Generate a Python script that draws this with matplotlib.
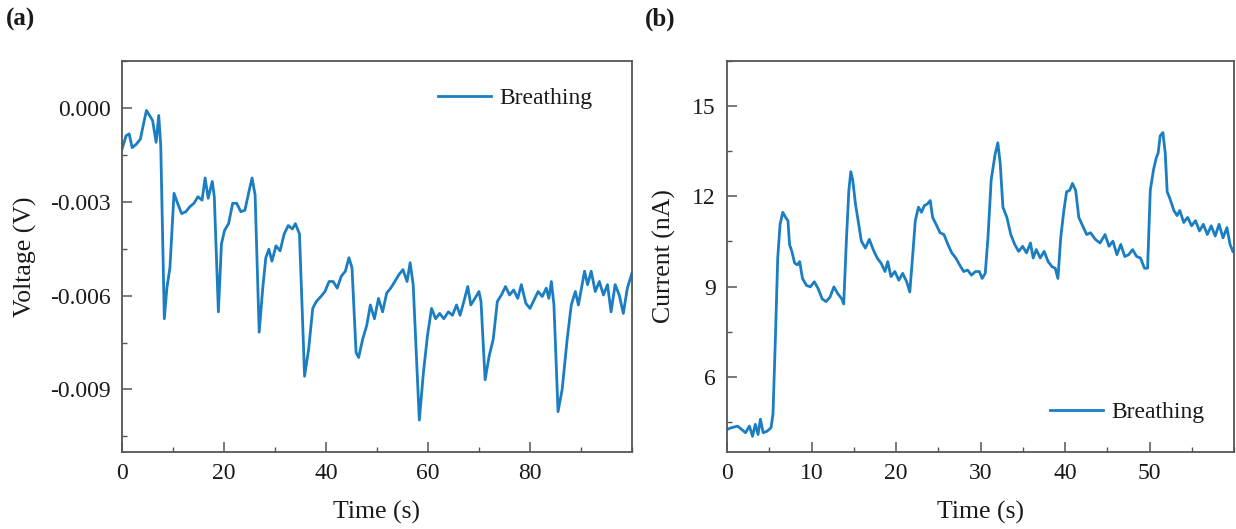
import matplotlib
matplotlib.use('Agg')
import matplotlib.pyplot as plt
from matplotlib.ticker import MultipleLocator, FuncFormatter

plt.rcParams['font.family'] = ['Liberation Serif', 'DejaVu Serif']
plt.rcParams['axes.unicode_minus'] = False

# (a) voltage during breathing, time in s, voltage in mV
t_a = [0, 0.8, 1.4, 2.0, 2.8, 3.6, 4.3, 4.8, 5.4, 6.0, 6.7, 7.2, 7.6, 8.3, 8.8, 9.4,
       10.2, 10.9, 11.7, 12.5, 13.3, 14.1, 14.9, 15.7, 16.3, 16.9, 17.7, 18.1, 18.9,
       19.5, 20.1, 20.9, 21.7, 22.5, 23.3, 24.1, 24.9, 25.5, 26.1, 26.9, 27.6, 28.2,
       28.8, 29.4, 30.2, 31.0, 31.8, 32.6, 33.4, 34.0, 34.8, 35.8, 36.6, 37.4, 38.1,
       39.0, 39.8, 40.6, 41.4, 42.2, 43.0, 43.8, 44.5, 45.1, 45.9, 46.4, 47.2, 48.0,
       48.7, 49.5, 50.3, 51.1, 51.9, 52.7, 53.5, 54.3, 55.1, 55.9, 56.5, 57.1, 58.3,
       59.1, 59.9, 60.7, 61.5, 62.3, 63.1, 64.0, 64.8, 65.6, 66.3, 67.2, 67.8, 68.4,
       69.2, 70.0, 70.4, 71.2, 72.0, 72.8, 73.6, 74.4, 75.2, 76.0, 76.8, 77.6, 78.3,
       79.2, 80.0, 80.8, 81.6, 82.4, 83.2, 83.7, 84.2, 84.7, 85.5, 86.3, 87.3, 88.1,
       88.9, 89.5, 90.1, 90.7, 91.3, 92.0, 92.8, 93.6, 94.4, 95.2, 95.9, 96.7, 97.5,
       98.3, 99.1, 100]
v_a = [-1.32, -0.89, -0.83, -1.27, -1.16, -1.0, -0.45, -0.08, -0.24, -0.40, -1.10,
       -0.24, -1.21, -6.74, -5.76, -5.11, -2.73, -3.05, -3.38, -3.32, -3.16, -3.05,
       -2.84, -2.95, -2.24, -2.89, -2.35, -2.84, -6.52, -4.35, -3.92, -3.70, -3.05,
       -3.05, -3.32, -3.27, -2.67, -2.24, -2.78, -7.17, -5.76, -4.79, -4.52, -4.90,
       -4.41, -4.57, -4.03, -3.76, -3.87, -3.70, -4.03, -8.58, -7.71, -6.41, -6.19,
       -6.03, -5.87, -5.55, -5.55, -5.76, -5.38, -5.22, -4.79, -5.11, -7.82, -7.98,
       -7.39, -6.95, -6.30, -6.74, -6.09, -6.52, -5.92, -5.76, -5.55, -5.33, -5.17,
       -5.55, -4.95, -5.65, -9.98, -8.47, -7.28, -6.41, -6.74, -6.57, -6.74, -6.52,
       -6.63, -6.30, -6.63, -6.09, -5.71, -6.30, -6.09, -5.87, -6.19, -8.69, -7.93,
       -7.39, -6.19, -5.98, -5.71, -5.98, -5.82, -6.09, -5.65, -6.25, -6.41, -6.14,
       -5.87, -6.03, -5.76, -6.09, -5.55, -6.30, -9.71, -9.01, -7.39, -6.30, -5.87,
       -6.30, -5.76, -5.22, -5.65, -5.22, -5.87, -5.55, -5.98, -5.65, -6.52, -5.65,
       -5.98, -6.57, -5.76, -5.28]

# (b) current during breathing, time in s, current in nA
t_b = [0, 0.56, 1.26, 1.72, 2.19, 2.65, 3.02, 3.35, 3.67, 3.95, 4.28, 4.74, 5.21,
       5.44, 5.72, 6.0, 6.28, 6.6, 6.93, 7.21, 7.40, 7.67, 8.0, 8.33, 8.6, 8.93, 9.4,
       9.86, 10.33, 10.79, 11.26, 11.72, 12.19, 12.65, 13.12, 13.58, 13.81, 14.14,
       14.42, 14.65, 14.88, 15.2, 15.58, 15.9, 16.37, 16.84, 17.3, 17.77, 18.23,
       18.7, 19.02, 19.4, 19.86, 20.33, 20.79, 21.26, 21.63, 21.95, 22.28, 22.65,
       23.02, 23.35, 23.72, 24.05, 24.33, 24.74, 25.21, 25.67, 26.14, 26.6, 27.07,
       27.53, 28.0, 28.47, 28.93, 29.4, 29.86, 30.19, 30.56, 30.88, 31.26, 31.72,
       32.05, 32.33, 32.65, 33.12, 33.58, 34.05, 34.51, 34.98, 35.44, 35.91, 36.23,
       36.6, 37.07, 37.53, 38.0, 38.47, 38.84, 39.16, 39.49, 39.86, 40.19, 40.56,
       40.88, 41.26, 41.63, 42.09, 42.56, 43.02, 43.58, 44.14, 44.74, 45.2, 45.67,
       46.14, 46.6, 47.07, 47.53, 48.0, 48.47, 48.93, 49.4, 49.77, 50.09, 50.47,
       50.79, 51.02, 51.26, 51.58, 51.86, 52.09, 52.42, 52.88, 53.26, 53.58, 54.05,
       54.51, 54.98, 55.44, 55.91, 56.37, 56.84, 57.3, 57.77, 58.23, 58.7, 59.16,
       59.53, 59.86]
i_b = [4.25, 4.31, 4.36, 4.25, 4.14, 4.36, 4.02, 4.42, 4.08, 4.59, 4.14, 4.19, 4.31,
       4.76, 7.24, 9.95, 11.07, 11.47, 11.30, 11.19, 10.40, 10.17, 9.78, 9.72, 9.83,
       9.27, 9.04, 8.99, 9.16, 8.93, 8.59, 8.50, 8.65, 8.99, 8.76, 8.59, 8.42, 10.62,
       12.20, 12.82, 12.54, 11.75, 11.07, 10.51, 10.28, 10.57, 10.23, 9.95, 9.78,
       9.50, 9.83, 9.33, 9.50, 9.21, 9.44, 9.16, 8.82, 9.95, 11.19, 11.64, 11.47,
       11.69, 11.75, 11.86, 11.30, 11.07, 10.79, 10.73, 10.40, 10.12, 9.95, 9.72,
       9.50, 9.55, 9.38, 9.50, 9.50, 9.27, 9.44, 10.62, 12.54, 13.39, 13.78, 13.10,
       11.64, 11.30, 10.73, 10.40, 10.17, 10.34, 10.12, 10.45, 9.95, 10.23, 9.95,
       10.17, 9.83, 9.66, 9.61, 9.27, 10.62, 11.53, 12.15, 12.20, 12.43, 12.20,
       11.30, 11.02, 10.73, 10.79, 10.57, 10.45, 10.73, 10.34, 10.51, 10.06, 10.40,
       10.00, 10.06, 10.23, 10.00, 9.95, 9.61, 9.61, 12.20, 12.88, 13.27, 13.44,
       14.01, 14.12, 13.44, 12.15, 11.92, 11.53, 11.36, 11.53, 11.13, 11.30, 11.02,
       11.19, 10.85, 11.07, 10.73, 11.02, 10.68, 11.07, 10.62, 10.96, 10.40, 10.17]

line_color = '#1b7dc2'
text_color = '#1a1a1a'
spine_color = '#555555'

fig = plt.figure(figsize=(12.36, 5.29), dpi=100)
ax_a = fig.add_axes([0.0987, 0.1456, 0.4126, 0.7391])
ax_b = fig.add_axes([0.5882, 0.1456, 0.4102, 0.7391])

ax_a.plot(t_a, [v / 1000 for v in v_a], color=line_color, lw=2.0, label='Breathing')
ax_b.plot(t_b, i_b, color=line_color, lw=2.0, label='Breathing')

ax_a.set_xlim(0, 100)
ax_a.set_ylim(-0.0110, 0.0015)
ax_a.xaxis.set_minor_locator(MultipleLocator(10))
ax_a.yaxis.set_major_locator(MultipleLocator(0.003))
ax_a.yaxis.set_minor_locator(MultipleLocator(0.0015))
ax_a.yaxis.set_major_formatter(FuncFormatter(lambda v, p: f'{v:.3f}'.replace('-0.000', '0.000')))
ax_a.set_xticks([0, 20, 40, 60, 80])

ax_b.set_xlim(0, 60)
ax_b.set_ylim(3.5, 16.5)
ax_b.set_xticks([0, 10, 20, 30, 40, 50])
ax_b.xaxis.set_minor_locator(MultipleLocator(5))
ax_b.yaxis.set_major_locator(MultipleLocator(3))
ax_b.yaxis.set_minor_locator(MultipleLocator(1.5))

for ax in (ax_a, ax_b):
    for s in ax.spines.values():
        s.set_color(spine_color)
        s.set_linewidth(1.3)
    ax.tick_params(which='major', direction='in', length=7, width=1.1, color=spine_color,
                   labelsize=17, labelcolor=text_color, pad=8)
    ax.tick_params(which='minor', direction='in', length=3.5, width=1.0, color=spine_color)
    ax.set_xlabel('Time (s)', fontsize=18.5, color=text_color)
    ax.xaxis.set_label_coords(0.5, -0.125)

ax_a.set_ylabel('Voltage (V)', fontsize=18.5, color=text_color)
ax_a.yaxis.set_label_coords(-0.167, 0.5)
ax_b.set_ylabel('Current (nA)', fontsize=18.5, color=text_color)
ax_b.yaxis.set_label_coords(-0.1, 0.5)

ax_a.legend(loc='center left', bbox_to_anchor=(0.62, 0.905), frameon=False, fontsize=17,
            handlelength=2.25, handletextpad=0.35, borderpad=0, borderaxespad=0,
            labelcolor=text_color)
ax_b.legend(loc='center left', bbox_to_anchor=(0.637, 0.102), frameon=False, fontsize=17,
            handlelength=2.25, handletextpad=0.35, borderpad=0, borderaxespad=0,
            labelcolor=text_color)

fig.text(0.005, 0.985, '(a)', fontsize=18, fontweight='bold', va='top', color=text_color)
fig.text(0.522, 0.985, '(b)', fontsize=18, fontweight='bold', va='top', color=text_color)

fig.savefig('out.png', dpi=100)
